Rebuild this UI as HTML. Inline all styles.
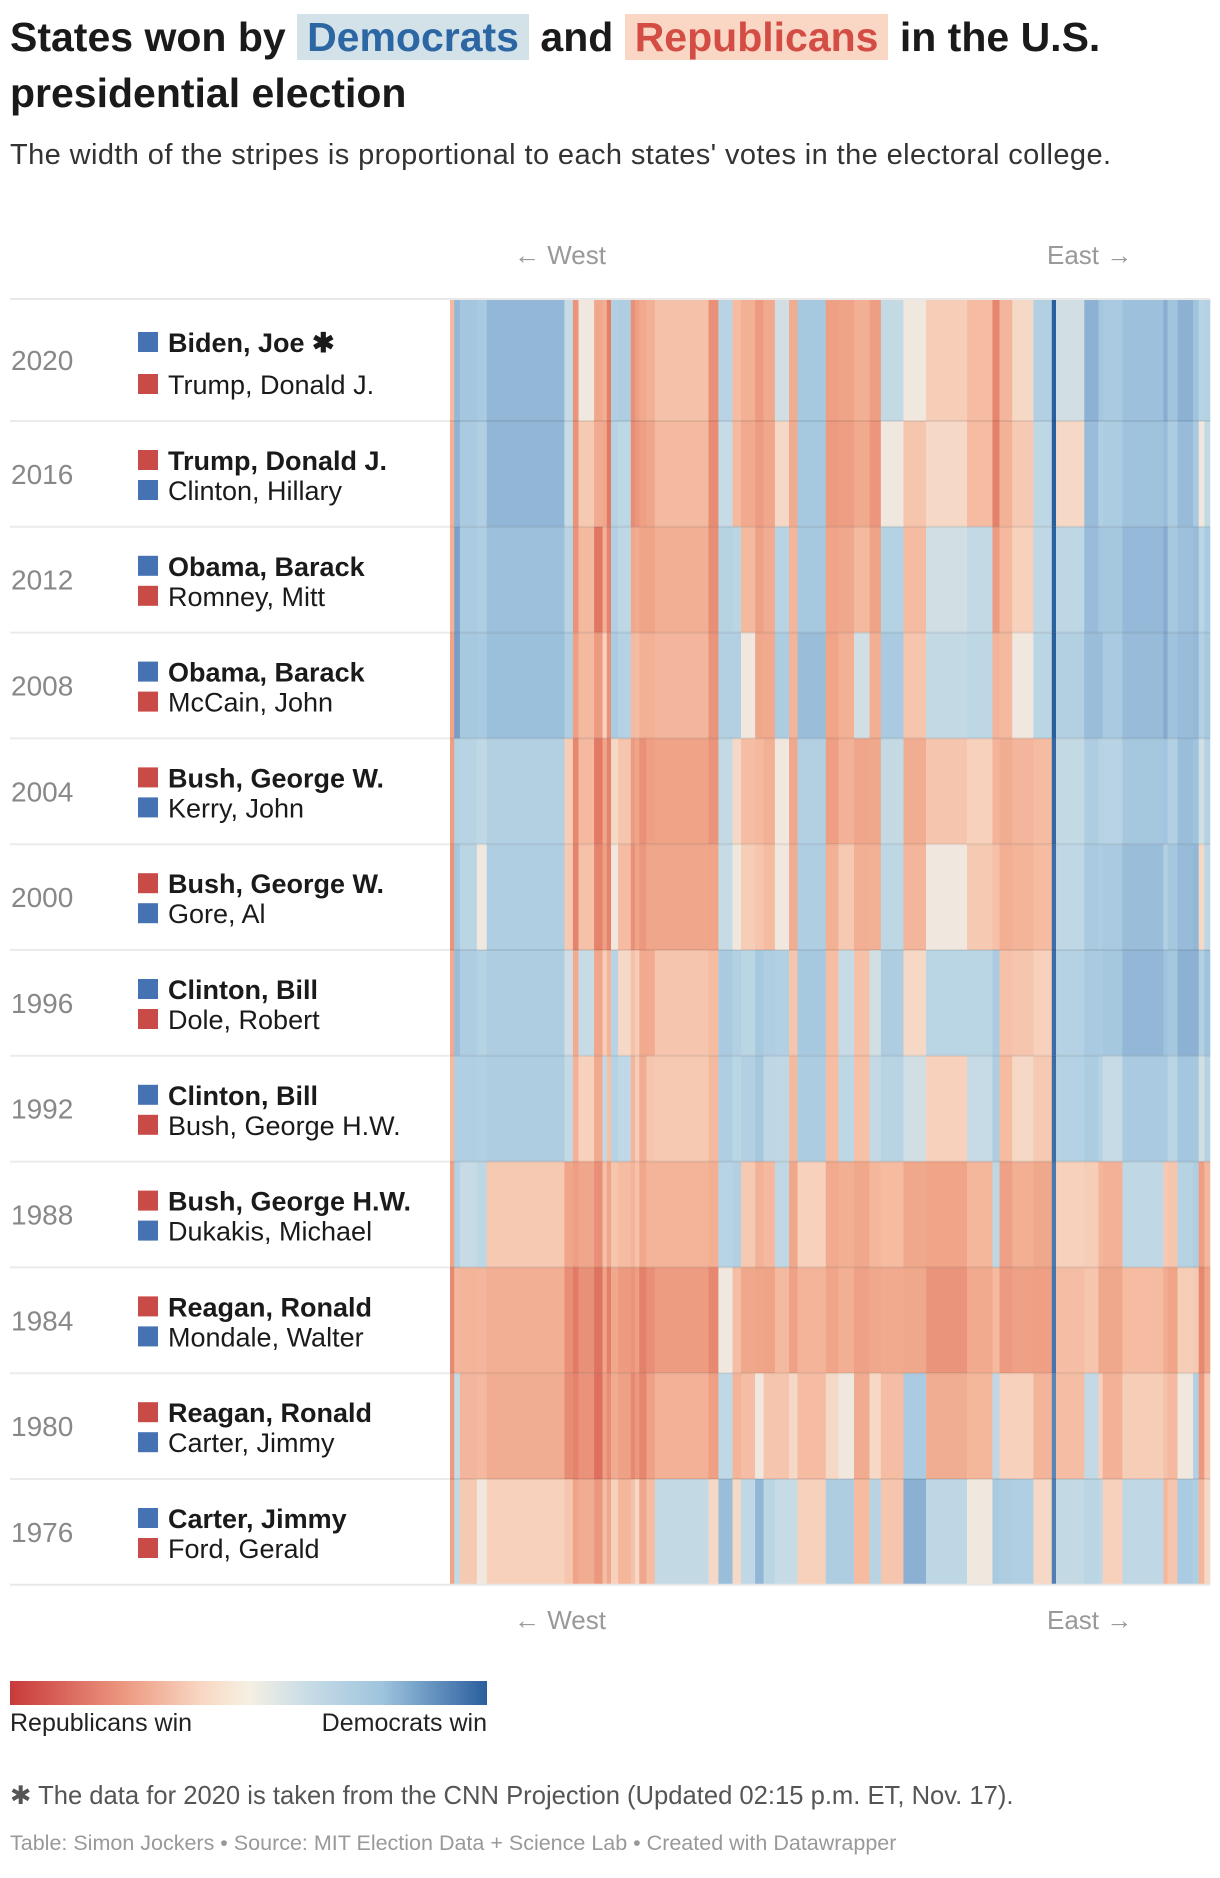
<!DOCTYPE html>
<html><head><meta charset="utf-8">
<style>
body{margin:0;background:#fff;font-family:"Liberation Sans",sans-serif;width:1220px;height:1878px;position:relative;overflow:hidden;color:#222}
.t{position:absolute;white-space:nowrap}
h1{position:absolute;left:10px;top:9px;margin:0;font-size:41px;line-height:56px;font-weight:bold;color:#1a1a1a}
.dem{background:#d3e2e8;color:#2c66a3;padding:0 10px}
.rep{background:#fad6c5;color:#d34d45;padding:0 10px}
</style></head><body>
<h1>States won by <span class="dem">Democrats</span> and <span class="rep">Republicans</span> in the U.S.<br>presidential election</h1>
<div class="t" style="left:10px;top:139px;font-size:29px;letter-spacing:0.4px;color:#333">The width of the stripes is proportional to each states' votes in the electoral college.</div>
<div class="t" style="left:514px;top:240px;font-size:26px;color:#999">← West</div>
<div class="t" style="left:1047px;top:240px;font-size:26px;color:#999">East →</div>
<div class="t" style="left:514px;top:1605px;font-size:26px;color:#999">← West</div>
<div class="t" style="left:1047px;top:1605px;font-size:26px;color:#999">East →</div>
<svg id="chart" width="1220" height="1600" style="position:absolute;left:0;top:0"></svg>
<div style="position:absolute;left:10px;top:1681px;width:477px;height:24px;background:linear-gradient(to right,#c8393b,#ee9c84 25%,#f8d7c2 40%,#f6f0e2 50%,#c9dde6 62%,#9ec4de 78%,#2a5f9e)"></div>
<div class="t" style="left:10px;top:1709px;font-size:25px;color:#222">Republicans win</div>
<div class="t" style="right:733px;top:1709px;font-size:25px;color:#222">Democrats win</div>
<div class="t" style="left:10px;top:1781px;font-size:25.6px;color:#555">✱ The data for 2020 is taken from the CNN Projection (Updated 02:15 p.m. ET, Nov. 17).</div>
<div class="t" style="left:10px;top:1831px;font-size:21.5px;color:#999">Table: Simon Jockers • Source: MIT Election Data + Science Lab • Created with Datawrapper</div>
<script>
const years=[2020,2016,2012,2008,2004,2000,1996,1992,1988,1984,1980,1976];
const winners=["Biden, Joe ✱","Trump, Donald J.","Obama, Barack","Obama, Barack","Bush, George W.","Bush, George W.","Clinton, Bill","Clinton, Bill","Bush, George H.W.","Reagan, Ronald","Reagan, Ronald","Carter, Jimmy"];
const losers=["Trump, Donald J.","Clinton, Hillary","Romney, Mitt","McCain, John","Kerry, John","Gore, Al","Dole, Robert","Bush, George H.W.","Dukakis, Michael","Mondale, Walter","Carter, Jimmy","Ford, Gerald"];
const winnerParty=["D","R","D","D","R","R","D","D","R","R","R","D"];
const states=["AK","HI","WA","OR","CA","NV","ID","AZ","UT","MT","WY","NM","CO","ND","SD","NE","KS","TX","OK","MN","IA","MO","AR","LA","WI","MS","IL","AL","TN","IN","KY","MI","GA","FL","OH","WV","SC","NC","VA","DC","PA","MD","DE","NJ","NY","VT","CT","MA","RI","NH","ME"];
const electoralVotes=[3,4,12,7,55,6,4,11,6,3,3,5,9,3,3,5,6,38,7,10,6,10,6,8,10,6,20,9,11,11,8,16,16,29,18,5,9,15,13,3,20,10,3,14,29,3,7,11,4,4,4];
// margins (Dem minus Rep, pct points) per state, years 2020..1976
const margins={
AK:[-10,-15,-14,-22,-26,-31,-18,-9,-23,-37,-28,-22],
HI:[29,32,43,45,9,18,25,11,9,-11,2,3],
WA:[19,16,15,17,7,6,13,11,2,-13,-12,-4],
OR:[16,11,12,16,4,0,8,10,5,-12,-10,0],
CA:[29,30,23,24,10,12,13,13,-4,-16,-17,-2],
NV:[2,2,7,12,-3,-4,1,3,-21,-34,-35,-5],
ID:[-31,-32,-32,-25,-38,-40,-18,-14,-26,-46,-41,-23],
AZ:[0,-4,-9,-9,-10,-6,2,-2,-21,-33,-32,-17],
UT:[-20,-18,-48,-28,-46,-41,-21,-19,-34,-50,-52,-29],
MT:[-16,-20,-14,-2,-21,-25,-3,3,-6,-22,-25,-7],
WY:[-43,-46,-41,-32,-40,-41,-13,-6,-22,-43,-35,-20],
NM:[11,8,10,15,-1,0,7,8,-5,-20,-18,-2],
CO:[13,5,5,9,-5,-8,-1,4,-8,-28,-24,-11],
ND:[-33,-36,-20,-9,-27,-33,-6,-12,-13,-31,-38,-6],
SD:[-26,-30,-18,-8,-22,-23,-3,-3,-6,-26,-29,-1],
NE:[-19,-25,-22,-15,-33,-29,-19,-17,-20,-42,-39,-21],
KS:[-15,-21,-22,-15,-25,-21,-18,-5,-13,-34,-24,-7],
TX:[-6,-9,-16,-12,-23,-21,-5,-4,-13,-27,-14,3],
OK:[-33,-36,-34,-31,-31,-22,-8,-9,-16,-38,-25,-1],
MN:[7,2,8,10,3,2,16,12,7,0,4,25],
IA:[-8,-9,6,10,-1,0,10,6,10,-7,-13,-1],
MO:[-15,-19,-9,0,-7,-3,6,10,-4,-20,-7,4],
AR:[-28,-27,-24,-20,-10,-5,17,18,-14,-22,0,30],
LA:[-19,-20,-17,-19,-15,-8,12,5,-10,-23,-5,6],
WI:[1,-1,7,14,0,0,10,4,4,-9,-5,2],
MS:[-17,-18,-12,-13,-20,-17,-5,-9,-20,-24,-1,2],
IL:[17,17,17,25,10,12,17,14,-2,-13,-8,-2],
AL:[-25,-28,-22,-22,-26,-15,-7,-7,-19,-22,-1,13],
TN:[-23,-26,-20,-15,-14,-4,2,5,-16,-16,0,13],
IN:[-16,-19,-10,1,-21,-16,-6,-6,-20,-24,-18,-8],
KY:[-26,-30,-23,-16,-20,-15,1,3,-11,-20,-1,7],
MI:[3,0,9,16,3,5,13,7,-8,-19,-7,-5],
GA:[0,-5,-8,-5,-17,-12,-1,1,-20,-20,15,34],
FL:[-3,-1,1,3,-5,0,6,-2,-22,-31,-17,5],
OH:[-8,-8,3,5,-2,-4,6,2,-11,-19,-11,0],
SC:[-12,-14,-10,-9,-17,-16,-6,-8,-24,-28,-2,13],
WV:[-39,-42,-27,-13,-13,-6,15,13,5,-10,4,16],
NC:[-1,-4,-2,0,-12,-13,-5,-1,-16,-24,-2,11],
VA:[10,5,4,6,-8,-8,-2,-4,-20,-25,-13,-1],
PA:[1,-1,5,10,3,4,9,9,-2,-7,-7,3],
DC:[87,87,84,86,80,76,76,76,68,71,61,65],
MD:[33,26,26,25,13,16,16,14,-3,-5,3,6],
NY:[23,22,28,27,18,25,29,16,4,-8,-3,4],
DE:[19,11,19,25,8,13,15,8,-12,-20,-2,5],
NJ:[16,14,18,16,7,16,18,2,-14,-20,-14,-2],
VT:[35,26,36,37,20,10,22,16,-4,-17,-6,-11],
CT:[20,14,17,22,10,18,18,6,-5,-22,-10,-5],
MA:[33,27,23,26,25,27,33,19,8,-3,0,15],
RI:[21,16,27,28,21,29,33,18,12,-4,10,11],
NH:[7,0,6,10,1,-1,10,1,-26,-38,-29,-11],
ME:[9,3,15,17,9,5,21,8,-11,-22,-4,-1]};

const svg=document.getElementById('chart');
const NS='http://www.w3.org/2000/svg';
const X0=450,X1=1210;
const totalEV=electoralVotes.reduce((a,b)=>a+b,0);
function xScale(ev){return X0+ev/totalEV*(X1-X0);}
const rowTops=[299,421];
for(let i=2;i<=12;i++)rowTops.push(421+(i-1)*105.8);
function rowTop(i){return rowTops[i];}
const stops=[[-1,[200,57,59]],[-0.5,[228,128,106]],[-0.25,[240,166,138]],[-0.08,[245,190,164]],[-0.015,[247,212,192]],[0,[240,232,222]],[0.015,[200,220,230]],[0.08,[184,212,228]],[0.25,[160,196,222]],[0.5,[125,162,202]],[1,[42,95,158]]];
function color(m){
  let t=Math.max(-1,Math.min(1,m/85));
  for(let i=0;i<stops.length-1;i++){
    const [a,ca]=stops[i],[b,cb]=stops[i+1];
    if(t>=a&&t<=b){const f=(t-a)/(b-a);return 'rgb('+ca.map((v,k)=>Math.round(v+(cb[k]-v)*f)).join(',')+')';}
  }
  return 'rgb(240,232,222)';
}
function mk(tag,attrs){const e=document.createElementNS(NS,tag);for(const k in attrs)e.setAttribute(k,attrs[k]);svg.appendChild(e);return e;}

years.forEach((yr,i)=>{
  const y0=rowTop(i),y1=rowTop(i+1);
  let cum=0;
  states.forEach((s,j)=>{
    const xa=xScale(cum);cum+=electoralVotes[j];const xb=xScale(cum);
    const r=mk('rect',{x:xa,y:y0,width:xb-xa+0.3,height:y1-y0,fill:color(margins[s][i])});
    
    
  });
  const line=mk('line',{x1:10,x2:X1,y1:y0,y2:y0,stroke:i===0?'#e8e8e8':'rgba(0,0,0,0.08)','stroke-width':2});
  
  
  const h=y1-y0, yc=y0+h/2;
  const yt=mk('text',{x:11,y:yc+10,'font-size':28,fill:'#888','font-family':'Liberation Sans, sans-serif'});
  yt.textContent=yr;
  
  
  const wy=i===0?y0+43:y0+39, ly=i===0?y0+85:y0+69;
  const wc=winnerParty[i]==='D'?'#4472b3':'#c94b47', lc=winnerParty[i]==='D'?'#c94b47':'#4472b3';
  const s1=mk('rect',{x:138,y:wy-10,width:20,height:20,fill:wc});
  
  
  const s2=mk('rect',{x:138,y:ly-10,width:20,height:20,fill:lc});
  
  
  const w=mk('text',{x:168,y:wy+10,'font-size':27,'font-weight':'bold',fill:'#1a1a1a','font-family':'Liberation Sans, sans-serif'});
  w.textContent=winners[i];
  
  
  const l=mk('text',{x:168,y:ly+10,'font-size':27,fill:'#1a1a1a','font-family':'Liberation Sans, sans-serif'});
  l.textContent=losers[i];
  
  
});
const bl=mk('line',{x1:10,x2:X1,y1:rowTop(12),y2:rowTop(12),stroke:'#e8e8e8','stroke-width':2});


</script>
</body></html>
